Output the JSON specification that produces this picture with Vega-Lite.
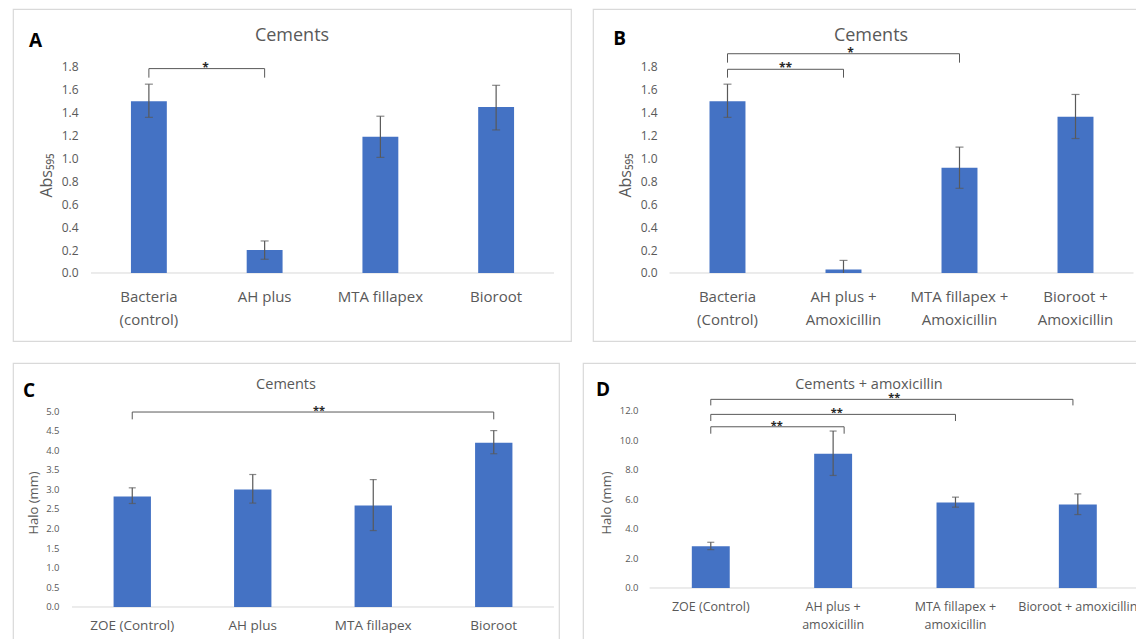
{
 "$schema": "https://vega.github.io/schema/vega-lite/v6.json",
 "background": "white",
 "padding": {"left": 12, "top": 8, "right": 0, "bottom": 0},
 "config": {"font": "Open Sans", "view": {"stroke": "#d9d9d9", "strokeWidth": 1.2}},
 "spacing": 20,
 "vconcat": [
  {"spacing": 20, "hconcat": [
   {"width": 558, "height": 332,
    "resolve": {"scale": {"x": "independent"}, "axis": {"x": "independent", "y": "independent"}},
    "layer": [
     {"data": {"values": [{}]},
      "mark": {"type": "rule", "color": "#d9d9d9", "strokeWidth": 1},
      "encoding": {
       "x": {"datum": -0.5, "type": "quantitative", "scale": {"domain": [-1.1739, 3.6468], "nice": false, "zero": false}, "axis": null},
       "x2": {"datum": 3.5},
       "y": {"datum": 0, "type": "quantitative", "scale": {"domain": [-0.5942, 2.3068], "nice": false, "zero": false}, "axis": null}}},
     {"data": {"values": [
       {"cat": "Bacteria\n(control)", "value": 1.50, "lo": 1.36, "hi": 1.65},
       {"cat": "AH plus", "value": 0.20, "lo": 0.12, "hi": 0.28},
       {"cat": "MTA fillapex", "value": 1.19, "lo": 1.01, "hi": 1.37},
       {"cat": "Bioroot", "value": 1.45, "lo": 1.25, "hi": 1.64}]},
      "resolve": {"axis": {"y": "independent"}},
      "encoding": {"x": {"field": "cat", "type": "nominal", "sort": null,
        "scale": {"paddingInner": 0, "paddingOuter": 0.4104, "align": 0.8211},
        "axis": {"orient": "bottom", "offset": -68, "domain": false, "ticks": false, "labelAngle": 0, "labelPadding": 16, "labelFontSize": 15, "labelLineHeight": 23, "labelColor": "#595959", "labelExpr": "split(datum.label, '\\n')", "title": null}}},
      "layer": [
       {"mark": {"type": "bar", "color": "#4472C4", "width": {"band": 0.31}},
        "encoding": {
         "y": {"field": "value", "type": "quantitative", "scale": {"domain": [-0.5942, 2.3068], "nice": false, "zero": false},
          "axis": {"values": [0, 0.2, 0.4, 0.6, 0.8, 1, 1.2, 1.4, 1.6, 1.8], "format": ".1f", "domain": false, "ticks": false, "grid": false, "offset": -69, "labelPadding": 4, "labelFontSize": 12, "labelColor": "#595959", "title": "Abs₅₉₅", "titleFontSize": 16, "titleFontWeight": "normal", "titleColor": "#595959", "titlePadding": 7}},
         "y2": {"datum": 0}}},
       {"mark": {"type": "rule", "color": "#595959", "strokeWidth": 1.2},
        "encoding": {"y": {"field": "lo", "type": "quantitative", "scale": {"domain": [-0.5942, 2.3068], "nice": false, "zero": false}, "axis": null}, "y2": {"field": "hi"}}},
       {"mark": {"type": "tick", "color": "#595959", "size": 8, "thickness": 1.2},
        "encoding": {"y": {"field": "hi", "type": "quantitative", "scale": {"domain": [-0.5942, 2.3068], "nice": false, "zero": false}, "axis": null}}},
       {"transform": [{"filter": "datum.lo > 0"}],
        "mark": {"type": "tick", "color": "#595959", "size": 8, "thickness": 1.2},
        "encoding": {"y": {"field": "lo", "type": "quantitative", "scale": {"domain": [-0.5942, 2.3068], "nice": false, "zero": false}, "axis": null}}}
      ]},
     {"data": {"values": [{"from": 0, "to": 1, "mid": 0.49, "y": 1.786, "ytick": 1.707, "label": "*"}]},
      "layer": [
       {"mark": {"type": "rule", "color": "#595959", "strokeWidth": 1},
        "encoding": {"x": {"field": "from", "type": "quantitative", "scale": {"domain": [-1.1739, 3.6468], "nice": false, "zero": false}, "axis": null}, "x2": {"field": "to"},
         "y": {"field": "y", "type": "quantitative", "scale": {"domain": [-0.5942, 2.3068], "nice": false, "zero": false}, "axis": null}}},
       {"mark": {"type": "rule", "color": "#595959", "strokeWidth": 1},
        "encoding": {"x": {"field": "from", "type": "quantitative", "scale": {"domain": [-1.1739, 3.6468], "nice": false, "zero": false}, "axis": null},
         "y": {"field": "y", "type": "quantitative", "scale": {"domain": [-0.5942, 2.3068], "nice": false, "zero": false}, "axis": null}, "y2": {"field": "ytick"}}},
       {"mark": {"type": "rule", "color": "#595959", "strokeWidth": 1},
        "encoding": {"x": {"field": "to", "type": "quantitative", "scale": {"domain": [-1.1739, 3.6468], "nice": false, "zero": false}, "axis": null},
         "y": {"field": "y", "type": "quantitative", "scale": {"domain": [-0.5942, 2.3068], "nice": false, "zero": false}, "axis": null}, "y2": {"field": "ytick"}}},
       {"mark": {"type": "text", "fontSize": 12, "fontWeight": "bold", "color": "#262626", "baseline": "alphabetic", "align": "center", "dy": 3},
        "encoding": {"x": {"field": "mid", "type": "quantitative", "scale": {"domain": [-1.1739, 3.6468], "nice": false, "zero": false}, "axis": null},
         "y": {"field": "y", "type": "quantitative", "scale": {"domain": [-0.5942, 2.3068], "nice": false, "zero": false}, "axis": null}, "text": {"field": "label"}}}
      ]},
     {"data": {"values": [{}]},
      "layer": [
       {"mark": {"type": "text", "fontSize": 18, "color": "#595959", "baseline": "middle", "align": "center"},
        "encoding": {"x": {"datum": 1.2365, "type": "quantitative", "scale": {"domain": [-1.1739, 3.6468], "nice": false, "zero": false}, "axis": null},
         "y": {"datum": 2.071, "type": "quantitative", "scale": {"domain": [-0.5942, 2.3068], "nice": false, "zero": false}, "axis": null}, "text": {"value": "Cements"}}},
       {"mark": {"type": "text", "fontSize": 19, "fontWeight": "bold", "color": "#000000", "baseline": "middle", "align": "center"},
        "encoding": {"x": {"datum": -0.98, "type": "quantitative", "scale": {"domain": [-1.1739, 3.6468], "nice": false, "zero": false}, "axis": null},
         "y": {"datum": 2.03, "type": "quantitative", "scale": {"domain": [-0.5942, 2.3068], "nice": false, "zero": false}, "axis": null}, "text": {"value": "A"}}}
      ]}
    ]},
   {"width": 546, "height": 332,
    "resolve": {"scale": {"x": "independent"}, "axis": {"x": "independent", "y": "independent"}},
    "layer": [
     {"data": {"values": [{}]},
      "mark": {"type": "rule", "color": "#d9d9d9", "strokeWidth": 1},
      "encoding": {
       "x": {"datum": -0.5, "type": "quantitative", "scale": {"domain": [-1.1595, 3.5474], "nice": false, "zero": false}, "axis": null},
       "x2": {"datum": 3.5},
       "y": {"datum": 0, "type": "quantitative", "scale": {"domain": [-0.5942, 2.3068], "nice": false, "zero": false}, "axis": null}}},
     {"data": {"values": [
       {"cat": "Bacteria\n(Control)", "value": 1.50, "lo": 1.36, "hi": 1.65},
       {"cat": "AH plus +\nAmoxicillin", "value": 0.03, "lo": 0, "hi": 0.11},
       {"cat": "MTA fillapex +\nAmoxicillin", "value": 0.92, "lo": 0.74, "hi": 1.10},
       {"cat": "Bioroot +\nAmoxicillin", "value": 1.365, "lo": 1.175, "hi": 1.56}]},
      "resolve": {"axis": {"y": "independent"}},
      "encoding": {"x": {"field": "cat", "type": "nominal", "sort": null,
        "scale": {"paddingInner": 0, "paddingOuter": 0.3534, "align": 0.9329},
        "axis": {"orient": "bottom", "offset": -68, "domain": false, "ticks": false, "labelAngle": 0, "labelPadding": 16, "labelFontSize": 15, "labelLineHeight": 23, "labelColor": "#595959", "labelExpr": "split(datum.label, '\\n')", "title": null}}},
      "layer": [
       {"mark": {"type": "bar", "color": "#4472C4", "width": {"band": 0.31}},
        "encoding": {
         "y": {"field": "value", "type": "quantitative", "scale": {"domain": [-0.5942, 2.3068], "nice": false, "zero": false},
          "axis": {"values": [0, 0.2, 0.4, 0.6, 0.8, 1, 1.2, 1.4, 1.6, 1.8], "format": ".1f", "domain": false, "ticks": false, "grid": false, "offset": -68, "labelPadding": 4, "labelFontSize": 12, "labelColor": "#595959", "title": "Abs₅₉₅", "titleFontSize": 16, "titleFontWeight": "normal", "titleColor": "#595959", "titlePadding": 7}},
         "y2": {"datum": 0}}},
       {"mark": {"type": "rule", "color": "#595959", "strokeWidth": 1.2},
        "encoding": {"y": {"field": "lo", "type": "quantitative", "scale": {"domain": [-0.5942, 2.3068], "nice": false, "zero": false}, "axis": null}, "y2": {"field": "hi"}}},
       {"mark": {"type": "tick", "color": "#595959", "size": 8, "thickness": 1.2},
        "encoding": {"y": {"field": "hi", "type": "quantitative", "scale": {"domain": [-0.5942, 2.3068], "nice": false, "zero": false}, "axis": null}}},
       {"transform": [{"filter": "datum.lo > 0"}],
        "mark": {"type": "tick", "color": "#595959", "size": 8, "thickness": 1.2},
        "encoding": {"y": {"field": "lo", "type": "quantitative", "scale": {"domain": [-0.5942, 2.3068], "nice": false, "zero": false}, "axis": null}}}
      ]},
     {"data": {"values": [
       {"from": 0, "to": 1, "mid": 0.5, "y": 1.78, "ytick": 1.707, "label": "**"},
       {"from": 0, "to": 2, "mid": 1.06, "y": 1.916, "ytick": 1.838, "label": "*"}]},
      "layer": [
       {"mark": {"type": "rule", "color": "#595959", "strokeWidth": 1},
        "encoding": {"x": {"field": "from", "type": "quantitative", "scale": {"domain": [-1.1595, 3.5474], "nice": false, "zero": false}, "axis": null}, "x2": {"field": "to"},
         "y": {"field": "y", "type": "quantitative", "scale": {"domain": [-0.5942, 2.3068], "nice": false, "zero": false}, "axis": null}}},
       {"mark": {"type": "rule", "color": "#595959", "strokeWidth": 1},
        "encoding": {"x": {"field": "from", "type": "quantitative", "scale": {"domain": [-1.1595, 3.5474], "nice": false, "zero": false}, "axis": null},
         "y": {"field": "y", "type": "quantitative", "scale": {"domain": [-0.5942, 2.3068], "nice": false, "zero": false}, "axis": null}, "y2": {"field": "ytick"}}},
       {"mark": {"type": "rule", "color": "#595959", "strokeWidth": 1},
        "encoding": {"x": {"field": "to", "type": "quantitative", "scale": {"domain": [-1.1595, 3.5474], "nice": false, "zero": false}, "axis": null},
         "y": {"field": "y", "type": "quantitative", "scale": {"domain": [-0.5942, 2.3068], "nice": false, "zero": false}, "axis": null}, "y2": {"field": "ytick"}}},
       {"mark": {"type": "text", "fontSize": 12, "fontWeight": "bold", "color": "#262626", "baseline": "alphabetic", "align": "center", "dy": 3},
        "encoding": {"x": {"field": "mid", "type": "quantitative", "scale": {"domain": [-1.1595, 3.5474], "nice": false, "zero": false}, "axis": null},
         "y": {"field": "y", "type": "quantitative", "scale": {"domain": [-0.5942, 2.3068], "nice": false, "zero": false}, "axis": null}, "text": {"field": "label"}}}
      ]},
     {"data": {"values": [{}]},
      "layer": [
       {"mark": {"type": "text", "fontSize": 18, "color": "#595959", "baseline": "middle", "align": "center"},
        "encoding": {"x": {"datum": 1.2371, "type": "quantitative", "scale": {"domain": [-1.1595, 3.5474], "nice": false, "zero": false}, "axis": null},
         "y": {"datum": 2.071, "type": "quantitative", "scale": {"domain": [-0.5942, 2.3068], "nice": false, "zero": false}, "axis": null}, "text": {"value": "Cements"}}},
       {"mark": {"type": "text", "fontSize": 19, "fontWeight": "bold", "color": "#000000", "baseline": "middle", "align": "center"},
        "encoding": {"x": {"datum": -0.93, "type": "quantitative", "scale": {"domain": [-1.1595, 3.5474], "nice": false, "zero": false}, "axis": null},
         "y": {"datum": 2.045, "type": "quantitative", "scale": {"domain": [-0.5942, 2.3068], "nice": false, "zero": false}, "axis": null}, "text": {"value": "B"}}}
      ]}
    ]}
  ]},
  {"spacing": 22, "hconcat": [
   {"width": 546, "height": 279,
    "resolve": {"scale": {"x": "independent"}, "axis": {"x": "independent", "y": "independent"}},
    "layer": [
     {"data": {"values": [{}]},
      "mark": {"type": "rule", "color": "#d9d9d9", "strokeWidth": 1},
      "encoding": {
       "x": {"datum": -0.5, "type": "quantitative", "scale": {"domain": [-0.9896, 3.5415], "nice": false, "zero": false}, "axis": null},
       "x2": {"datum": 3.5},
       "y": {"datum": 0, "type": "quantitative", "scale": {"domain": [-0.8929, 6.2245], "nice": false, "zero": false}, "axis": null}}},
     {"data": {"values": [
       {"cat": "ZOE (Control)", "value": 2.82, "lo": 2.64, "hi": 3.04},
       {"cat": "AH plus", "value": 3.0, "lo": 2.65, "hi": 3.38},
       {"cat": "MTA fillapex", "value": 2.59, "lo": 1.95, "hi": 3.25},
       {"cat": "Bioroot", "value": 4.19, "lo": 3.91, "hi": 4.5}]},
      "resolve": {"axis": {"y": "independent"}},
      "encoding": {"x": {"field": "cat", "type": "nominal", "sort": null,
        "scale": {"paddingInner": 0, "paddingOuter": 0.2656, "align": 0.9219},
        "axis": {"orient": "bottom", "offset": -35, "domain": false, "ticks": false, "labelAngle": 0, "labelPadding": 11, "labelFontSize": 13.5, "labelColor": "#595959", "title": null}}},
      "layer": [
       {"mark": {"type": "bar", "color": "#4472C4", "width": {"band": 0.31}},
        "encoding": {
         "y": {"field": "value", "type": "quantitative", "scale": {"domain": [-0.8929, 6.2245], "nice": false, "zero": false},
          "axis": {"values": [0, 0.5, 1, 1.5, 2, 2.5, 3, 3.5, 4, 4.5, 5], "format": ".1f", "domain": false, "ticks": false, "grid": false, "offset": -50, "labelPadding": 4, "labelFontSize": 9.5, "labelColor": "#595959", "title": "Halo (mm)", "titleFontSize": 13, "titleFontWeight": "normal", "titleColor": "#595959", "titlePadding": 5}},
         "y2": {"datum": 0}}},
       {"mark": {"type": "rule", "color": "#595959", "strokeWidth": 1.2},
        "encoding": {"y": {"field": "lo", "type": "quantitative", "scale": {"domain": [-0.8929, 6.2245], "nice": false, "zero": false}, "axis": null}, "y2": {"field": "hi"}}},
       {"mark": {"type": "tick", "color": "#595959", "size": 7, "thickness": 1.2},
        "encoding": {"y": {"field": "hi", "type": "quantitative", "scale": {"domain": [-0.8929, 6.2245], "nice": false, "zero": false}, "axis": null}}},
       {"transform": [{"filter": "datum.lo > 0"}],
        "mark": {"type": "tick", "color": "#595959", "size": 7, "thickness": 1.2},
        "encoding": {"y": {"field": "lo", "type": "quantitative", "scale": {"domain": [-0.8929, 6.2245], "nice": false, "zero": false}, "axis": null}}}
      ]},
     {"data": {"values": [{"from": 0, "to": 3, "mid": 1.55, "y": 4.974, "ytick": 4.787, "label": "**"}]},
      "layer": [
       {"mark": {"type": "rule", "color": "#595959", "strokeWidth": 1},
        "encoding": {"x": {"field": "from", "type": "quantitative", "scale": {"domain": [-0.9896, 3.5415], "nice": false, "zero": false}, "axis": null}, "x2": {"field": "to"},
         "y": {"field": "y", "type": "quantitative", "scale": {"domain": [-0.8929, 6.2245], "nice": false, "zero": false}, "axis": null}}},
       {"mark": {"type": "rule", "color": "#595959", "strokeWidth": 1},
        "encoding": {"x": {"field": "from", "type": "quantitative", "scale": {"domain": [-0.9896, 3.5415], "nice": false, "zero": false}, "axis": null},
         "y": {"field": "y", "type": "quantitative", "scale": {"domain": [-0.8929, 6.2245], "nice": false, "zero": false}, "axis": null}, "y2": {"field": "ytick"}}},
       {"mark": {"type": "rule", "color": "#595959", "strokeWidth": 1},
        "encoding": {"x": {"field": "to", "type": "quantitative", "scale": {"domain": [-0.9896, 3.5415], "nice": false, "zero": false}, "axis": null},
         "y": {"field": "y", "type": "quantitative", "scale": {"domain": [-0.8929, 6.2245], "nice": false, "zero": false}, "axis": null}, "y2": {"field": "ytick"}}},
       {"mark": {"type": "text", "fontSize": 11, "fontWeight": "bold", "color": "#262626", "baseline": "alphabetic", "align": "center", "dy": 2},
        "encoding": {"x": {"field": "mid", "type": "quantitative", "scale": {"domain": [-0.9896, 3.5415], "nice": false, "zero": false}, "axis": null},
         "y": {"field": "y", "type": "quantitative", "scale": {"domain": [-0.8929, 6.2245], "nice": false, "zero": false}, "axis": null}, "text": {"field": "label"}}}
      ]},
     {"data": {"values": [{}]},
      "layer": [
       {"mark": {"type": "text", "fontSize": 14.5, "color": "#595959", "baseline": "middle", "align": "center"},
        "encoding": {"x": {"datum": 1.276, "type": "quantitative", "scale": {"domain": [-0.9896, 3.5415], "nice": false, "zero": false}, "axis": null},
         "y": {"datum": 5.663, "type": "quantitative", "scale": {"domain": [-0.8929, 6.2245], "nice": false, "zero": false}, "axis": null}, "text": {"value": "Cements"}}},
       {"mark": {"type": "text", "fontSize": 19, "fontWeight": "bold", "color": "#000000", "baseline": "middle", "align": "center"},
        "encoding": {"x": {"datum": -0.857, "type": "quantitative", "scale": {"domain": [-0.9896, 3.5415], "nice": false, "zero": false}, "axis": null},
         "y": {"datum": 5.51, "type": "quantitative", "scale": {"domain": [-0.8929, 6.2245], "nice": false, "zero": false}, "axis": null}, "text": {"value": "C"}}}
      ]}
    ]},
   {"width": 556, "height": 279,
    "resolve": {"scale": {"x": "independent"}, "axis": {"x": "independent", "y": "independent"}},
    "layer": [
     {"data": {"values": [{}]},
      "mark": {"type": "rule", "color": "#d9d9d9", "strokeWidth": 1},
      "encoding": {
       "x": {"datum": -0.5, "type": "quantitative", "scale": {"domain": [-1.0443, 3.5], "nice": false, "zero": false}, "axis": null},
       "x2": {"datum": 3.5},
       "y": {"datum": 0, "type": "quantitative", "scale": {"domain": [-3.661, 15.254], "nice": false, "zero": false}, "axis": null}}},
     {"data": {"values": [
       {"cat": "ZOE (Control)", "value": 2.83, "lo": 2.60, "hi": 3.10},
       {"cat": "AH plus +\namoxicillin", "value": 9.10, "lo": 7.63, "hi": 10.64},
       {"cat": "MTA fillapex +\namoxicillin", "value": 5.80, "lo": 5.48, "hi": 6.16},
       {"cat": "Bioroot + amoxicillin", "value": 5.66, "lo": 4.98, "hi": 6.38}]},
      "resolve": {"axis": {"y": "independent"}},
      "encoding": {"x": {"field": "cat", "type": "nominal", "sort": null,
        "scale": {"paddingInner": 0, "paddingOuter": 0.2722, "align": 1},
        "axis": {"orient": "bottom", "offset": -54, "domain": false, "ticks": false, "labelAngle": 0, "labelPadding": 12, "labelFontSize": 12.5, "labelLineHeight": 18.6, "labelColor": "#595959", "labelExpr": "split(datum.label, '\\n')", "title": null}}},
      "layer": [
       {"mark": {"type": "bar", "color": "#4472C4", "width": {"band": 0.31}},
        "encoding": {
         "y": {"field": "value", "type": "quantitative", "scale": {"domain": [-3.661, 15.254], "nice": false, "zero": false},
          "axis": {"values": [0, 2, 4, 6, 8, 10, 12], "format": ".1f", "domain": false, "ticks": false, "grid": false, "offset": -59, "labelPadding": 4, "labelFontSize": 9.5, "labelColor": "#595959", "title": "Halo (mm)", "titleFontSize": 13, "titleFontWeight": "normal", "titleColor": "#595959", "titlePadding": 6}},
         "y2": {"datum": 0}}},
       {"mark": {"type": "rule", "color": "#595959", "strokeWidth": 1.2},
        "encoding": {"y": {"field": "lo", "type": "quantitative", "scale": {"domain": [-3.661, 15.254], "nice": false, "zero": false}, "axis": null}, "y2": {"field": "hi"}}},
       {"mark": {"type": "tick", "color": "#595959", "size": 7, "thickness": 1.2},
        "encoding": {"y": {"field": "hi", "type": "quantitative", "scale": {"domain": [-3.661, 15.254], "nice": false, "zero": false}, "axis": null}}},
       {"transform": [{"filter": "datum.lo > 0"}],
        "mark": {"type": "tick", "color": "#595959", "size": 7, "thickness": 1.2},
        "encoding": {"y": {"field": "lo", "type": "quantitative", "scale": {"domain": [-3.661, 15.254], "nice": false, "zero": false}, "axis": null}}}
      ]},
     {"data": {"values": [
       {"from": 0, "to": 1.09, "mid": 0.54, "y": 10.93, "ytick": 10.46, "label": "**"},
       {"from": 0, "to": 2, "mid": 1.03, "y": 11.77, "ytick": 11.32, "label": "**"},
       {"from": 0, "to": 2.96, "mid": 1.5, "y": 12.79, "ytick": 12.38, "label": "**"}]},
      "layer": [
       {"mark": {"type": "rule", "color": "#595959", "strokeWidth": 1},
        "encoding": {"x": {"field": "from", "type": "quantitative", "scale": {"domain": [-1.0443, 3.5], "nice": false, "zero": false}, "axis": null}, "x2": {"field": "to"},
         "y": {"field": "y", "type": "quantitative", "scale": {"domain": [-3.661, 15.254], "nice": false, "zero": false}, "axis": null}}},
       {"mark": {"type": "rule", "color": "#595959", "strokeWidth": 1},
        "encoding": {"x": {"field": "from", "type": "quantitative", "scale": {"domain": [-1.0443, 3.5], "nice": false, "zero": false}, "axis": null},
         "y": {"field": "y", "type": "quantitative", "scale": {"domain": [-3.661, 15.254], "nice": false, "zero": false}, "axis": null}, "y2": {"field": "ytick"}}},
       {"mark": {"type": "rule", "color": "#595959", "strokeWidth": 1},
        "encoding": {"x": {"field": "to", "type": "quantitative", "scale": {"domain": [-1.0443, 3.5], "nice": false, "zero": false}, "axis": null},
         "y": {"field": "y", "type": "quantitative", "scale": {"domain": [-3.661, 15.254], "nice": false, "zero": false}, "axis": null}, "y2": {"field": "ytick"}}},
       {"mark": {"type": "text", "fontSize": 11, "fontWeight": "bold", "color": "#262626", "baseline": "alphabetic", "align": "center", "dy": 2},
        "encoding": {"x": {"field": "mid", "type": "quantitative", "scale": {"domain": [-1.0443, 3.5], "nice": false, "zero": false}, "axis": null},
         "y": {"field": "y", "type": "quantitative", "scale": {"domain": [-3.661, 15.254], "nice": false, "zero": false}, "axis": null}, "text": {"field": "label"}}}
      ]},
     {"data": {"values": [{}]},
      "layer": [
       {"mark": {"type": "text", "fontSize": 14.5, "color": "#595959", "baseline": "middle", "align": "center"},
        "encoding": {"x": {"datum": 1.293, "type": "quantitative", "scale": {"domain": [-1.0443, 3.5], "nice": false, "zero": false}, "axis": null},
         "y": {"datum": 13.76, "type": "quantitative", "scale": {"domain": [-3.661, 15.254], "nice": false, "zero": false}, "axis": null}, "text": {"value": "Cements + amoxicillin"}}},
       {"mark": {"type": "text", "fontSize": 19, "fontWeight": "bold", "color": "#000000", "baseline": "middle", "align": "center"},
        "encoding": {"x": {"datum": -0.881, "type": "quantitative", "scale": {"domain": [-1.0443, 3.5], "nice": false, "zero": false}, "axis": null},
         "y": {"datum": 13.42, "type": "quantitative", "scale": {"domain": [-3.661, 15.254], "nice": false, "zero": false}, "axis": null}, "text": {"value": "D"}}}
      ]}
    ]}
  ]}
 ]
}
